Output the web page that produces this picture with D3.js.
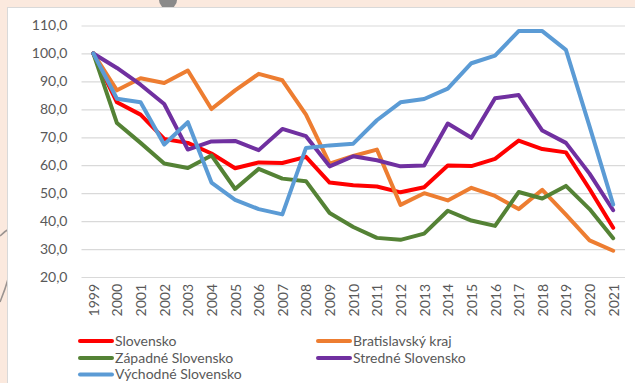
<!DOCTYPE html>
<html>
<head>
<meta charset="utf-8">
<script src="https://cdn.jsdelivr.net/npm/d3@7"></script>
<style>
  html, body { margin: 0; padding: 0; background: #fbe9de; }
  svg { display: block; }
  text { font-family: Lato, "Open Sans", sans-serif; fill: #595959; }
</style>
</head>
<body>
<svg id="chart" width="635" height="383"></svg>
<script>
// Index of regional values, 1999 = 100
const years = ["1999","2000","2001","2002","2003","2004","2005","2006","2007","2008","2009","2010",
               "2011","2012","2013","2014","2015","2016","2017","2018","2019","2020","2021"];

const seriesNames = ["Slovensko", "Bratislavský kraj", "Západné Slovensko", "Stredné Slovensko", "Východné Slovensko"];
const seriesColors = ["#ff0000", "#ed7d31", "#548235", "#7030a0", "#5b9bd5"];

const slovensko   = [100, 82.5, 78.1, 69.4, 68.0, 64.2, 58.9, 61.0, 60.8, 63.0, 53.8, 52.8, 52.4, 50.3, 52.1, 59.9, 59.7, 62.3, 68.8, 65.8, 64.6, 51.5, 37.6];
const bratislava  = [100, 86.8, 91.1, 89.4, 93.9, 80.1, 86.8, 92.7, 90.4, 78.1, 60.6, 63.3, 65.6, 45.8, 50.0, 47.4, 51.9, 49.0, 44.3, 51.2, 42.3, 33.1, 29.4];
const zapadne     = [100, 75.1, 68.0, 60.6, 59.0, 63.5, 51.5, 58.7, 55.2, 54.3, 42.9, 37.9, 34.0, 33.3, 35.5, 43.7, 40.2, 38.3, 50.4, 48.1, 52.6, 44.3, 33.9];
const stredne     = [100, 94.8, 88.8, 81.9, 65.6, 68.5, 68.7, 65.4, 73.0, 70.4, 59.6, 63.2, 61.8, 59.6, 59.9, 74.9, 69.8, 84.0, 85.1, 72.4, 68.0, 57.0, 43.9];
const vychodne    = [100, 83.8, 82.5, 67.4, 75.4, 53.8, 47.6, 44.3, 42.4, 66.2, 67.1, 67.7, 76.1, 82.5, 83.7, 87.4, 96.5, 99.2, 108.0, 108.0, 101.3, 73.9, 45.9];

const yTicks = [20, 30, 40, 50, 60, 70, 80, 90, 100, 110];

const seriesValues = [slovensko, bratislava, zapadne, stredne, vychodne];

const svg = d3.select("#chart");

// Decorative background strokes on the slide margin
svg.append("path")
  .attr("d", "M0,236 Q5,231 9,229 M0,302 Q5,290 9,276")
  .attr("fill", "none").attr("stroke", "#9a9390").attr("stroke-width", 1.6);
svg.append("circle").attr("cx", 168).attr("cy", 0).attr("r", 9).attr("fill", "#8a8a8a");

// Chart area
svg.append("rect")
  .attr("x", 7.5).attr("y", 7.5).attr("width", 640).attr("height", 390)
  .attr("fill", "#ffffff").attr("stroke", "#d9d9d9").attr("stroke-width", 1);

const x = d3.scalePoint().domain(years).range([81.5, 625]).padding(0.5);
const y = d3.scaleLinear().domain([20, 110]).range([277, 25.5]);

const locale = d3.formatLocale({ decimal: ",", thousands: " ", grouping: [3], currency: ["", " €"] });
const fmt = locale.format(".1f");

// Horizontal gridlines with value labels
const yAxis = d3.axisLeft(y).tickValues(yTicks).tickFormat(fmt).tickSize(-(625 - 81.5)).tickPadding(14);
const gy = svg.append("g").attr("transform", "translate(81.5,0)").call(yAxis);
gy.select(".domain").remove();
gy.selectAll(".tick line").attr("stroke", "#d9d9d9").attr("stroke-width", 1.2);
gy.selectAll(".tick text").attr("font-size", 14).attr("fill", "#595959")
  .style("font-family", "Lato, 'Open Sans', sans-serif");

// Year labels, rotated
const xAxis = d3.axisBottom(x).tickSize(0).tickPadding(0);
const gx = svg.append("g").attr("transform", "translate(0,277)").call(xAxis);
gx.select(".domain").remove();
gx.selectAll(".tick text")
  .attr("font-size", 14).attr("fill", "#595959")
  .style("font-family", "Lato, 'Open Sans', sans-serif")
  .attr("text-anchor", "end")
  .attr("dy", null)
  .attr("transform", "translate(5,7) rotate(-90)");

// Series lines
const line = d3.line().x((d, i) => x(years[i])).y(d => y(d));
seriesValues.forEach((vals, k) => {
  svg.append("path")
    .datum(vals)
    .attr("d", line)
    .attr("fill", "none")
    .attr("stroke", seriesColors[k])
    .attr("stroke-width", 4)
    .attr("stroke-linejoin", "round")
    .attr("stroke-linecap", "round");
});

// Legend in two columns
const legendCols = [80, 318];
const legendRows = [341, 358, 374.5];
seriesNames.forEach((name, k) => {
  const col = k % 2, row = Math.floor(k / 2);
  const g = svg.append("g").attr("transform", `translate(${legendCols[col]},${legendRows[row]})`);
  g.append("line").attr("x1", 0).attr("x2", 32).attr("y1", 0).attr("y2", 0)
    .attr("stroke", seriesColors[k]).attr("stroke-width", 4).attr("stroke-linecap", "round");
  g.append("text").attr("x", 35).attr("y", 0).attr("dy", "0.35em")
    .attr("font-size", 14).attr("fill", "#595959").text(name);
});
</script>
</body>
</html>
